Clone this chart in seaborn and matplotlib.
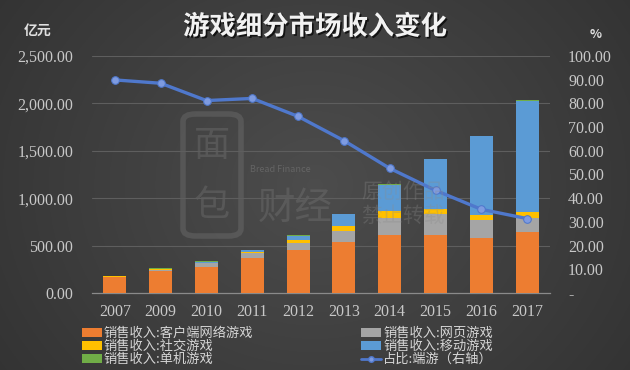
import numpy as np
import pandas as pd
import matplotlib
matplotlib.use("Agg")
import matplotlib.pyplot as plt
import matplotlib.patheffects as pe
from matplotlib.patches import Patch, FancyBboxPatch
from matplotlib.lines import Line2D
from matplotlib.ticker import FixedLocator, FixedFormatter
import seaborn as sns

# ---------------- data ----------------
years = ['2007', '2009', '2010', '2011', '2012', '2013', '2014', '2015', '2016', '2017']
client = [166, 235, 271, 368, 451, 537, 607, 612, 583, 647]      # 客户端网络游戏
web = [2, 3, 42, 50, 78, 120, 189, 218, 187, 147]                # 网页游戏
social = [9, 10, 5, 17, 30, 55, 72, 59, 53, 64]                  # 社交游戏
mobile = [2, 8, 7, 15, 45, 118, 275, 524, 836, 1170]             # 移动游戏
single = [4, 8, 9, 3, 3, 1, 2, 1, 1, 6]                          # 单机游戏
share = [89.9, 88.5, 81.2, 82.1, 74.5, 64.3, 52.6, 43.3, 35.3, 31.4]  # 占比:端游(右轴)

left_ticks = [0, 500, 1000, 1500, 2000, 2500]
left_labels = ['0.00', '500.00', '1,000.00', '1,500.00', '2,000.00', '2,500.00']
right_ticks = [0, 10, 20, 30, 40, 50, 60, 70, 80, 90, 100]
right_labels = ['-', '10.00', '20.00', '30.00', '40.00', '50.00', '60.00',
                '70.00', '80.00', '90.00', '100.00']

names = ['销售收入:客户端网络游戏', '销售收入:网页游戏', '销售收入:社交游戏',
         '销售收入:移动游戏', '销售收入:单机游戏']
line_name = '占比:端游（右轴）'
colors = ['#ED7D31', '#A5A5A5', '#FFC000', '#5B9BD5', '#70AD47']
line_color = '#4F78CC'
tick_font = 'Liberation Serif'

# ---------------- figure ----------------
sns.set_theme(style="dark")
plt.rcParams['font.family'] = ['Noto Sans CJK SC', 'DejaVu Sans']

fig = plt.figure(figsize=(6.3, 3.7), dpi=100)
W, H = 630.0, 370.0

# background gradient
bg = fig.add_axes([0, 0, 1, 1], zorder=-10)
xx, yy = np.meshgrid(np.linspace(-1, 1, 400), np.linspace(-1, 1, 240))
r = np.sqrt((xx * 0.9) ** 2 + (yy * 0.6) ** 2)
val = 0.30 - 0.09 * np.clip(r, 0, 1.3)
img = np.dstack([val, val, val])
bg.imshow(img, aspect='auto', extent=[0, 1, 0, 1], origin='lower')
bg.set_axis_off()

# faint watermark logo
wm = '#7A7A7A'
bg.add_patch(FancyBboxPatch((183 / W, 1 - 236 / H), 58 / W, 122 / H,
                            boxstyle='round,pad=0,rounding_size=0.02',
                            fill=False, edgecolor=wm, linewidth=4, alpha=0.35,
                            transform=bg.transAxes))
bg.text(212 / W, 1 - 146 / H, '面', ha='center', va='center', fontsize=26,
        color=wm, alpha=0.35, transform=bg.transAxes)
bg.text(212 / W, 1 - 206 / H, '包', ha='center', va='center', fontsize=26,
        color=wm, alpha=0.35, transform=bg.transAxes)
bg.text(295 / W, 1 - 208 / H, '财经', ha='center', va='center', fontsize=27,
        color=wm, alpha=0.35, transform=bg.transAxes)
bg.text(280 / W, 1 - 169 / H, 'Bread Finance', ha='center', va='center',
        fontsize=6.5, color='#8C8C8C', alpha=0.4, transform=bg.transAxes)

ax = fig.add_axes([92 / W, 1 - 293 / H, 458 / W, (293 - 56) / H])
ax.set_facecolor('none')
ax.patch.set_alpha(0)

df = pd.DataFrame({'year': years, 'client': client, 'web': web,
                   'social': social, 'mobile': mobile, 'single': single})
series = ['client', 'web', 'social', 'mobile', 'single']
cum = df[series].cumsum(axis=1)

# draw from the top layer downward so lower layers cover upper ones
for i in range(len(series) - 1, -1, -1):
    sns.barplot(x=df['year'], y=cum[series[i]], color=colors[i], width=0.5,
                saturation=1, ax=ax, linewidth=0, zorder=3)

ax.set_xlim(-0.5, len(years) - 0.5)
ax.set_ylim(0, 2500)
ax.yaxis.set_major_locator(FixedLocator(left_ticks))
ax.yaxis.set_major_formatter(FixedFormatter(left_labels))
ax.grid(axis='y', color='#5E5E5E', linewidth=0.8, zorder=0)
ax.grid(axis='x', visible=False)
ax.set_xlabel('')
ax.set_ylabel('')
for s in ['top', 'left', 'right']:
    ax.spines[s].set_visible(False)
ax.spines['bottom'].set_color('#8A8A8A')
ax.spines['bottom'].set_linewidth(0.9)
ax.tick_params(axis='y', length=0, pad=13.5, labelsize=11.5, labelcolor='#C8C8C8',
               labelfontfamily=tick_font)
ax.tick_params(axis='x', length=0, pad=8, labelsize=11.5, labelcolor='#C8C8C8',
               labelfontfamily=tick_font)

# right axis line
ax2 = ax.twinx()
ax2.set_facecolor('none')
sns.lineplot(x=np.arange(len(years)), y=share, ax=ax2, color=line_color,
             linewidth=2.4, marker='o', markersize=5.5,
             markerfacecolor='#7E9BE0', markeredgecolor=line_color, zorder=5)
ax2.set_ylim(0, 100)
ax2.yaxis.set_major_locator(FixedLocator(right_ticks))
ax2.yaxis.set_major_formatter(FixedFormatter(right_labels))
ax2.grid(False)
for s in ax2.spines.values():
    s.set_visible(False)
ax2.tick_params(axis='y', length=0, pad=13, labelsize=11.5, labelcolor='#C8C8C8',
                labelfontfamily=tick_font)
ax2.set_xlim(-0.5, len(years) - 0.5)

# title and unit labels
fig.text(0.5, 1 - 27 / H, '游戏细分市场收入变化', ha='center', va='center',
         fontsize=19, fontweight='bold', color='#F2F2F2',
         path_effects=[pe.withSimplePatchShadow(offset=(1.2, -1.2),
                                                shadow_rgbFace='black', alpha=0.7)])
fig.text(38 / W, 1 - 31 / H, '亿元', ha='center', va='center',
         fontsize=10, fontweight='bold', color='#E0E0E0')
fig.text(596 / W, 1 - 34 / H, '%', ha='center', va='center',
         fontsize=9, fontweight='bold', color='#E0E0E0')

# watermark text
fig.text(403 / W, 1 - 192 / H, '原创作品', ha='center', va='center',
         fontsize=15, color='#8C8C8C', alpha=0.3, zorder=1)
fig.text(403 / W, 1 - 216 / H, '禁止转载', ha='center', va='center',
         fontsize=15, color='#8C8C8C', alpha=0.3, zorder=1)

# legend (Excel-like two columns, row-major)
h_client = Patch(facecolor=colors[0], edgecolor='none')
h_web = Patch(facecolor=colors[1], edgecolor='none')
h_social = Patch(facecolor=colors[2], edgecolor='none')
h_mobile = Patch(facecolor=colors[3], edgecolor='none')
h_single = Patch(facecolor=colors[4], edgecolor='none')
h_line = Line2D([], [], color=line_color, linewidth=2, marker='o', markersize=4,
                markerfacecolor='#7E9BE0', markeredgecolor=line_color)
handles = [h_client, h_social, h_single, h_web, h_mobile, h_line]
labels = [names[0], names[2], names[4], names[1], names[3], line_name]
leg = fig.legend(handles, labels, ncol=2, loc='upper left',
                 bbox_to_anchor=(82 / W, 1 - 327 / H), frameon=False,
                 fontsize=9.5, labelcolor='#D6D6D6', handlelength=1.5,
                 handleheight=0.6, handletextpad=0.15, labelspacing=0.0,
                 columnspacing=8.2, borderaxespad=0, borderpad=0)

fig.savefig('out.png', dpi=100)
